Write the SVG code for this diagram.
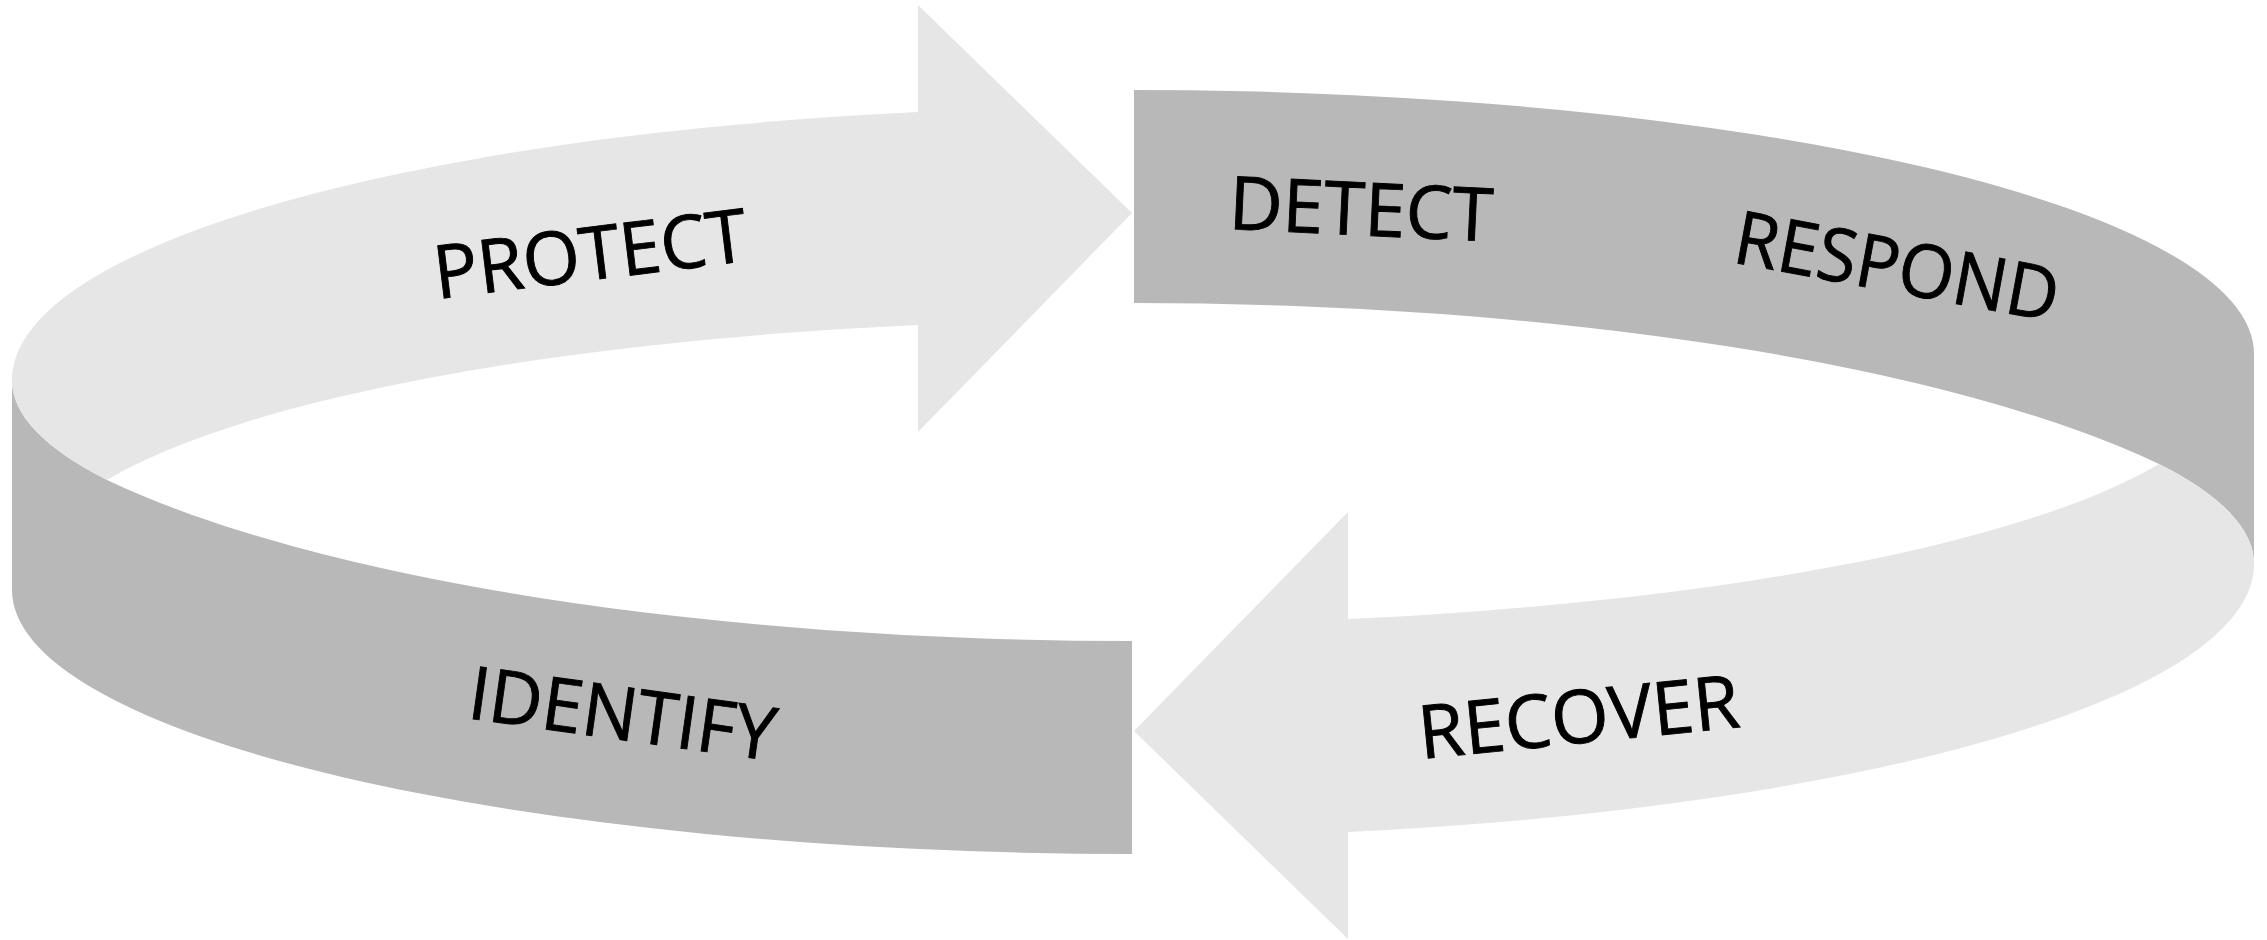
<svg xmlns="http://www.w3.org/2000/svg" width="2267" height="940" viewBox="0 0 2267 940">
  <style>
    .light { fill: #e6e6e6; }
    .dark { fill: #b8b8b8; }
    .lbl { font-family: "Open Sans", "Noto Sans", "Liberation Sans", sans-serif; font-size: 74px; fill: #000000; stroke: #000000; stroke-width: 0.9px; }
  </style>
  <rect x="0" y="0" width="2267" height="940" fill="#ffffff"/>
  <g id="identify">
    <path class="dark" d="M 12,380 L 12,590 A 1123 264 0 0 0 1132,854 L 1132,641 A 1180 317 0 0 1 107,480 A 1123 248 0 0 1 12,380 Z"/>
    <text class="lbl" transform="translate(466,718) rotate(8)" textLength="309" lengthAdjust="spacingAndGlyphs">IDENTIFY</text>
  </g>
  <g id="protect">
    <path class="light" d="M 918,112 L 918,5 L 1132,213 L 918,432 L 918,325 A 1100 248 0 0 0 107,480 A 1123 248 0 0 1 12,380 A 1123 273 0 0 1 918,112 Z"/>
    <text class="lbl" transform="translate(437,299) rotate(-7)" textLength="315" lengthAdjust="spacingAndGlyphs">PROTECT</text>
  </g>
  <g id="detect-respond">
    <path class="dark" d="M 2254,564 L 2254,354 A 1123 264 0 0 0 1134,90 L 1134,303 A 1180 317 0 0 1 2159,464 A 1123 248 0 0 1 2254,564 Z"/>
    <g id="detect">
      <text class="lbl" transform="translate(1228,229) rotate(2.7)" textLength="264" lengthAdjust="spacingAndGlyphs">DETECT</text>
    </g>
    <g id="respond">
      <text class="lbl" transform="translate(1731,262) rotate(10.5)" textLength="328" lengthAdjust="spacingAndGlyphs">RESPOND</text>
    </g>
  </g>
  <g id="recover">
    <path class="light" d="M 1348,832 L 1348,939 L 1134,731 L 1348,512 L 1348,619 A 1100 248 0 0 0 2159,464 A 1123 248 0 0 1 2254,564 A 1123 273 0 0 1 1348,832 Z"/>
    <text class="lbl" transform="translate(1421,759) rotate(-5.7)" textLength="322" lengthAdjust="spacingAndGlyphs">RECOVER</text>
  </g>
</svg>
